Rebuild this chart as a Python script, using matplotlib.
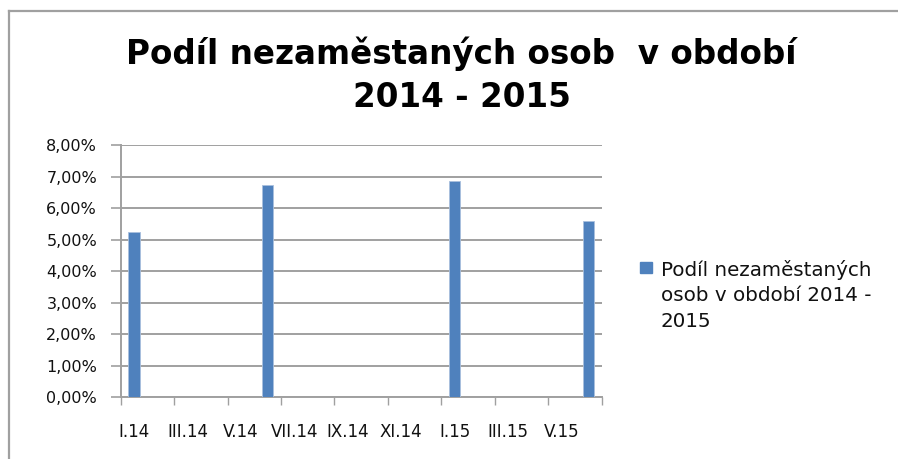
import matplotlib.pyplot as plt
from matplotlib.lines import Line2D
from matplotlib.patches import Rectangle
import numpy as np

# monthly categories I.14 .. VI.15, only some months have a value
months = ["I.14", "II.14", "III.14", "IV.14", "V.14", "VI.14", "VII.14", "VIII.14",
          "IX.14", "X.14", "XI.14", "XII.14", "I.15", "II.15", "III.15", "IV.15",
          "V.15", "VI.15"]
values = [5.23, None, None, None, None, 6.73, None, None, None, None, None, None,
          6.87, None, None, None, None, 5.58]
yticks = [0, 1, 2, 3, 4, 5, 6, 7, 8]
title = "Podíl nezaměstaných osob  v období\n2014 - 2015"
legend_label = "Podíl nezaměstaných\nosob v období 2014 -\n2015"

blue = "#4F81BD"
grey = "#a0a0a0"

fig = plt.figure(figsize=(8.98, 4.59), dpi=100)
ax = fig.add_axes([0.1344, 0.135, 0.5356, 0.549])

x = np.arange(len(months))
vals = np.array([np.nan if v is None else v for v in values])
ax.bar(x, vals, width=0.42, color=blue, edgecolor="#a9c0de", linewidth=0.6, zorder=3)

ax.set_xlim(-0.5, len(months) - 0.5)
ax.set_ylim(0, 8)
ax.set_yticks(yticks)
ax.set_yticklabels([("%.2f%%" % v).replace(".", ",") for v in yticks])
ax.yaxis.grid(True, color=grey, linewidth=1.4, zorder=0)

# ticks on category boundaries, labels on every other month
ax.set_xticks(np.arange(-0.5, len(months), 2))
ax.set_xticklabels([])
ax.set_xticks(x[::2], minor=True)
ax.set_xticklabels(months[::2], minor=True)
ax.tick_params(axis="x", which="major", length=6, width=1, color=grey, direction="out")
ax.tick_params(axis="x", which="minor", length=0, pad=19, labelsize=12, labelcolor="#111111")
ax.tick_params(axis="y", length=7, width=1.2, color=grey, pad=10, labelsize=11.5,
               labelcolor="#111111")

for s in ["top", "right"]:
    ax.spines[s].set_visible(False)
for s in ["left", "bottom"]:
    ax.spines[s].set_color(grey)
    ax.spines[s].set_linewidth(1.4)

fig.text(0.514, 1 - 75 / 459, title, ha="center", va="center", fontsize=23.5,
         fontweight="bold", family="DejaVu Sans", linespacing=1.4)

# legend drawn by hand to match the wrapped label
fig.patches.append(Rectangle((640 / 898, 1 - 273 / 459), 12 / 898, 11 / 459,
                             transform=fig.transFigure, color=blue))
fig.text(661 / 898, 1 - 260 / 459, legend_label, ha="left", va="top", fontsize=14.3,
         color="#111111", linespacing=1.42)

# outer chart border (left and top only are visible)
fig.add_artist(Line2D([8.5 / 898, 8.5 / 898], [0, 1 - 10.5 / 459], color=grey, linewidth=1.6,
                      transform=fig.transFigure))
fig.add_artist(Line2D([8.5 / 898, 1], [1 - 10.5 / 459, 1 - 10.5 / 459], color=grey,
                      linewidth=1.6, transform=fig.transFigure))

fig.savefig("out.png", dpi=100)
